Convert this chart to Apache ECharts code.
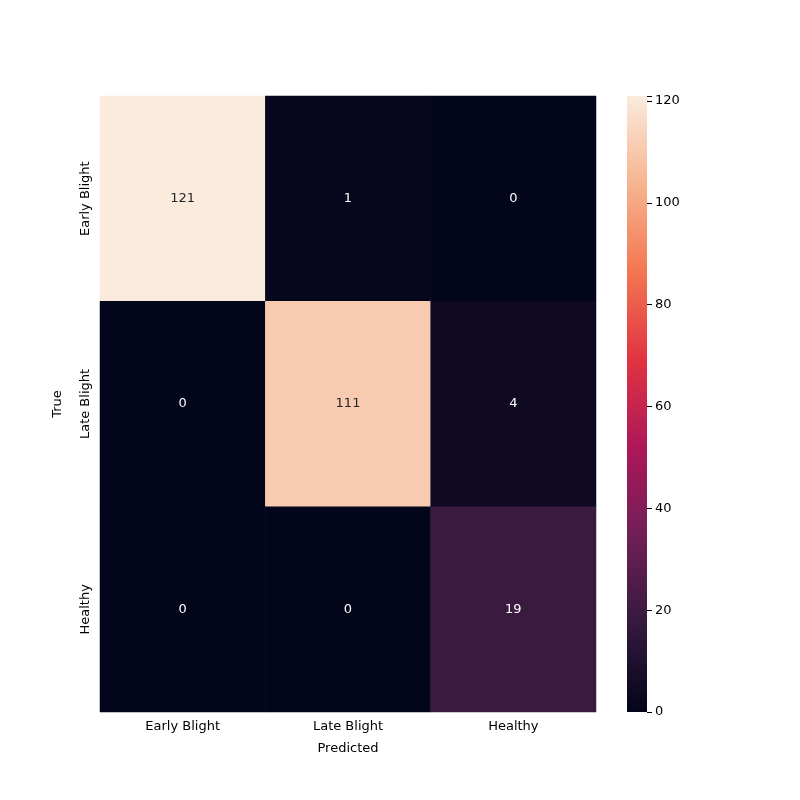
<!DOCTYPE html>
<html>
<head>
<meta charset="utf-8">
<script src="https://cdn.jsdelivr.net/npm/echarts@6/dist/echarts.min.js"></script>
<style>html,body{margin:0;background:#fff}#chart{width:800px;height:800px}</style>
</head>
<body>
<div id="chart"></div>
<script>
// confusion matrix
var classes = ['Early Blight', 'Late Blight', 'Healthy'];
var matrix = [
    [121, 1, 0],
    [0, 111, 4],
    [0, 0, 19]
];
var colorTicks = [0, 20, 40, 60, 80, 100, 120];
var vmax = 121;
// rocket colormap
var rocket = ['#03051a', '#35193e', '#701f57', '#ad1759', '#e13342', '#f37651', '#f6b48f', '#faebdd'];

var cells = [];
matrix.forEach(function (row, i) {
    row.forEach(function (v, j) {
        cells.push({
            value: [j, i, v],
            label: {color: v > vmax * 0.6 ? '#262626' : '#ffffff'}
        });
    });
});

var font = 'DejaVu Sans';
var chart = echarts.init(document.getElementById('chart'));
chart.setOption({
    animation: false,
    textStyle: {fontFamily: font},
    grid: [
        {left: 100, top: 96, width: 496, height: 616},
        {left: 627, top: 96, width: 20, height: 616}
    ],
    xAxis: [
        {
            type: 'category', gridIndex: 0, data: classes,
            name: 'Predicted', nameLocation: 'middle', nameGap: 30,
            nameTextStyle: {color: '#000', fontSize: 13, fontFamily: font},
            axisLine: {show: false},
            axisTick: {alignWithLabel: true, length: 5, lineStyle: {color: '#000'}},
            axisLabel: {color: '#000', fontSize: 13, margin: 8},
            splitLine: {show: false}
        },
        {
            type: 'category', gridIndex: 1, data: ['c'], show: false
        }
    ],
    yAxis: [
        {
            type: 'category', gridIndex: 0, data: classes, inverse: true,
            name: 'True', nameLocation: 'middle', nameGap: 36, nameRotate: 90,
            nameTextStyle: {color: '#000', fontSize: 13, fontFamily: font},
            axisLine: {show: false},
            axisTick: {alignWithLabel: true, length: 5, lineStyle: {color: '#000'}},
            axisLabel: {color: '#000', fontSize: 13, rotate: 90, margin: 8},
            splitLine: {show: false}
        },
        {
            type: 'value', gridIndex: 1, min: 0, max: vmax, interval: 20, position: 'right',
            axisLine: {show: false},
            axisTick: {show: true, length: 5, lineStyle: {color: '#000'}},
            axisLabel: {color: '#000', fontSize: 13, margin: 8,
                formatter: function (v) { return colorTicks.indexOf(v) >= 0 ? v : ''; }},
            splitLine: {show: false}
        }
    ],
    visualMap: {
        show: false, min: 0, max: vmax, dimension: 2, seriesIndex: 0,
        inRange: {color: rocket}
    },
    series: [
        {
            type: 'heatmap', xAxisIndex: 0, yAxisIndex: 0, data: cells,
            label: {show: true, fontSize: 13, fontFamily: font}
        },
        {
            type: 'bar', xAxisIndex: 1, yAxisIndex: 1, data: [vmax], barWidth: '100%',
            itemStyle: {
                color: new echarts.graphic.LinearGradient(0, 1, 0, 0,
                    rocket.map(function (c, k) { return {offset: k / (rocket.length - 1), color: c}; }))
            }
        }
    ]
});
</script>
</body>
</html>
